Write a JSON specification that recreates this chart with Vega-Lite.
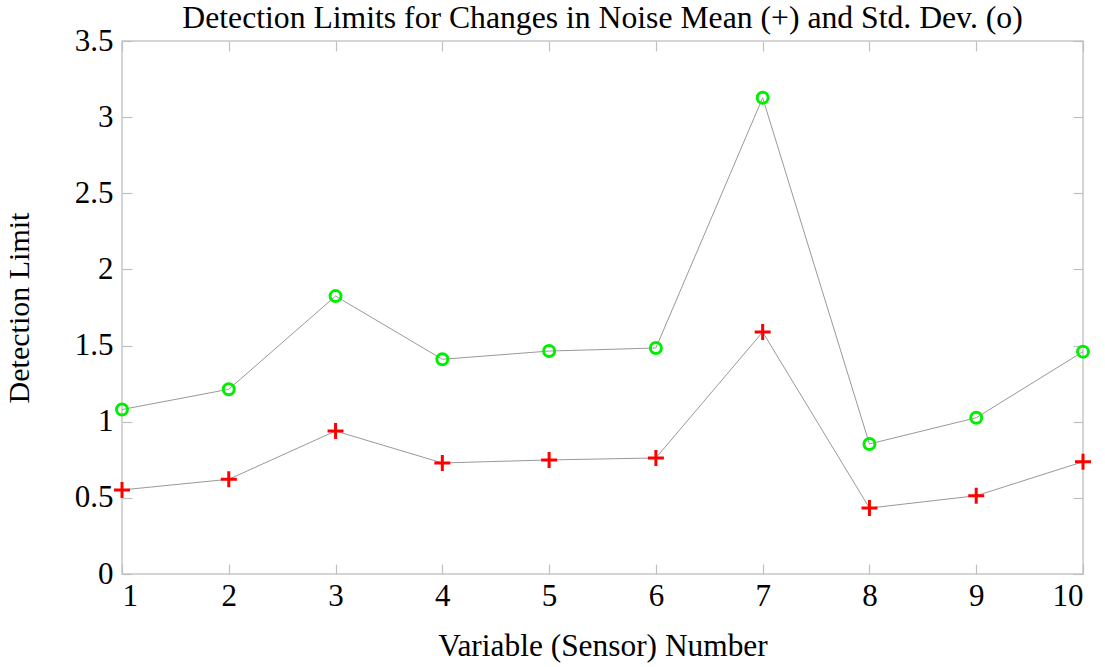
{
  "$schema": "https://vega.github.io/schema/vega-lite/v6.json",
  "autosize": "none",
  "width": 961,
  "height": 533,
  "padding": {"left": 122, "top": 41, "right": 22, "bottom": 93},
  "background": "white",
  "config": {
    "font": "Liberation Serif",
    "view": {"stroke": "#c8c8c8", "strokeWidth": 1.5},
    "axis": {"grid": false, "domain": false, "tickColor": "#c0c0c0", "tickWidth": 1.2, "labelColor": "black", "titleColor": "black", "labelFont": "Liberation Serif", "titleFont": "Liberation Serif", "titleFontWeight": "normal", "labelFontSize": 31, "titleFontSize": 30},
    "title": {"font": "Liberation Serif", "fontWeight": "normal", "fontSize": 31.7, "color": "black", "offset": -10}
  },
  "title": {"text": "Detection Limits for Changes in Noise Mean (+) and Std. Dev. (o)", "anchor": "middle"},
  "data": {"values": [
    {"sensor": 1, "type": "mean", "value": 0.552},
    {"sensor": 2, "type": "mean", "value": 0.622},
    {"sensor": 3, "type": "mean", "value": 0.939},
    {"sensor": 4, "type": "mean", "value": 0.729},
    {"sensor": 5, "type": "mean", "value": 0.749},
    {"sensor": 6, "type": "mean", "value": 0.762},
    {"sensor": 7, "type": "mean", "value": 1.589},
    {"sensor": 8, "type": "mean", "value": 0.433},
    {"sensor": 9, "type": "mean", "value": 0.514},
    {"sensor": 10, "type": "mean", "value": 0.737},
    {"sensor": 1, "type": "std", "value": 1.08},
    {"sensor": 2, "type": "std", "value": 1.213},
    {"sensor": 3, "type": "std", "value": 1.825},
    {"sensor": 4, "type": "std", "value": 1.41},
    {"sensor": 5, "type": "std", "value": 1.464},
    {"sensor": 6, "type": "std", "value": 1.484},
    {"sensor": 7, "type": "std", "value": 3.127},
    {"sensor": 8, "type": "std", "value": 0.854},
    {"sensor": 9, "type": "std", "value": 1.026},
    {"sensor": 10, "type": "std", "value": 1.46}
  ]},
  "encoding": {
    "x": {"field": "sensor", "type": "quantitative", "axis": null, "scale": {"domain": [1, 10], "nice": false, "zero": false}},
    "y": {"field": "value", "type": "quantitative", "axis": null, "scale": {"domain": [0, 3.5], "nice": false}}
  },
  "layer": [
    {
      "mark": {"type": "line", "color": "#999999", "strokeWidth": 1},
      "encoding": {
        "detail": {"field": "type"},
        "x": {"field": "sensor", "type": "quantitative", "title": "Variable (Sensor) Number",
          "axis": {"orient": "bottom", "values": [1,2,3,4,5,6,7,8,9,10], "tickSize": -10, "labelPadding": 17, "titlePadding": 19, "titleFontSize": 31.4, "format": "d"}},
        "y": {"field": "value", "type": "quantitative", "title": "Detection Limit",
          "axis": {"orient": "left", "values": [0,0.5,1,1.5,2,2.5,3,3.5], "tickSize": -10, "labelPadding": 19, "titlePadding": 40, "format": "~g"}}
      }
    },
    {
      "transform": [{"filter": "datum.type === 'std'"}],
      "mark": {"type": "point", "shape": "circle", "filled": false, "stroke": "#00ee00", "strokeWidth": 3, "size": 120, "opacity": 1}
    },
    {
      "transform": [{"filter": "datum.type === 'mean'"}],
      "mark": {"type": "point", "shape": "M-1,0H1M0,-1V1", "filled": false, "stroke": "#ff0000", "strokeWidth": 3, "size": 256, "opacity": 1}
    },
    {
      "mark": {"type": "rule", "opacity": 0},
      "encoding": {
        "x": {"field": "sensor", "type": "quantitative", "axis": {"orient": "top", "values": [1,2,3,4,5,6,7,8,9,10], "tickSize": -10, "labels": false, "title": null}},
        "y": {"field": "value", "type": "quantitative", "axis": {"orient": "right", "values": [0,0.5,1,1.5,2,2.5,3,3.5], "tickSize": -10, "labels": false, "title": null}}
      }
    }
  ],
  "resolve": {"axis": {"x": "independent", "y": "independent"}}
}
